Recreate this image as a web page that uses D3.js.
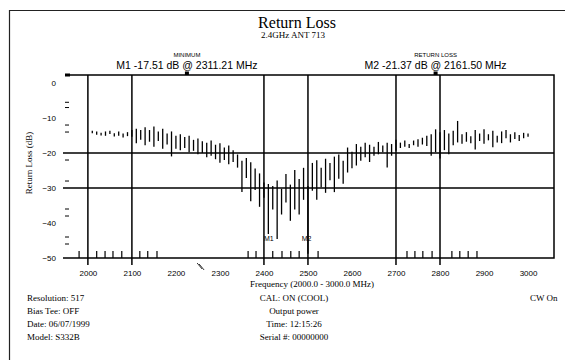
<!DOCTYPE html>
<html>
<head>
<meta charset="utf-8">
<script src="https://cdn.jsdelivr.net/npm/d3@7"></script>
<style>
  body { margin: 0; background: #fff; }
  text { font-family: 'Liberation Serif', 'DejaVu Serif', serif; fill: #000; }
</style>
</head>
<body>
<div id="chart"></div>
<script>
const width = 565
const height = 360

/* trace samples: frequency (MHz), upper and lower value (dB) of each sweep bin */
const freqs = [2010, 2020, 2030, 2040, 2050, 2060, 2070, 2080, 2090, 2100,
    2110, 2120, 2130, 2140, 2150, 2160, 2170, 2180, 2190, 2200,
    2210, 2220, 2230, 2240, 2250, 2260, 2270, 2280, 2290, 2300,
    2310, 2320, 2330, 2340, 2350, 2360, 2370, 2380, 2390, 2400,
    2410, 2420, 2430, 2440, 2450, 2460, 2470, 2480, 2490, 2500,
    2510, 2520, 2530, 2540, 2550, 2560, 2570, 2580, 2590, 2600,
    2610, 2620, 2630, 2640, 2650, 2660, 2670, 2680, 2690, 2700,
    2710, 2720, 2730, 2740, 2750, 2760, 2770, 2780, 2790, 2800,
    2810, 2820, 2830, 2840, 2850, 2860, 2870, 2880, 2890, 2900,
    2910, 2920, 2930, 2940, 2950, 2960, 2970, 2980, 2990, 3000]
const hiLoss = [-13.8, -14.0, -14.4, -14.0, -13.8, -14.5, -14.0, -14.6, -14.2, -13.6,
    -13.2, -13.6, -12.8, -13.6, -12.6, -14.0, -13.2, -14.6, -14.0, -15.2,
    -14.8, -15.6, -15.2, -16.4, -16.0, -16.8, -17.2, -16.6, -17.8, -17.4,
    -18.6, -18.0, -19.4, -20.6, -22.4, -21.6, -22.8, -24.6, -26.0, -28.6,
    -29.0, -29.6, -28.0, -30.4, -26.2, -29.2, -25.0, -27.6, -24.4, -29.6,
    -23.0, -22.2, -24.4, -21.8, -23.0, -21.2, -20.6, -22.4, -18.6, -19.8,
    -17.6, -18.4, -17.2, -17.8, -18.4, -17.0, -18.0, -17.2, -17.6, -16.4,
    -17.2, -16.6, -17.6, -16.6, -16.2, -15.8, -15.2, -14.8, -13.4, -14.2,
    -13.6, -14.6, -13.8, -11.0, -14.8, -14.2, -15.4, -13.6, -14.6, -13.4,
    -14.8, -13.8, -15.2, -14.0, -13.6, -14.8, -14.2, -15.0, -14.4, -14.6]
const loLoss = [-14.2, -14.6, -14.8, -14.9, -14.4, -15.1, -14.9, -15.4, -15.0, -15.2,
    -17.0, -16.0, -17.6, -16.6, -18.0, -16.4, -18.6, -17.4, -20.8, -18.6,
    -19.0, -18.4, -19.6, -19.2, -20.2, -19.8, -21.0, -20.6, -21.6, -22.6,
    -21.8, -23.0, -22.4, -24.0, -31.0, -27.0, -33.6, -30.4, -35.2, -32.6,
    -43.0, -36.0, -44.4, -37.4, -34.0, -39.2, -36.0, -37.4, -33.2, -48.6,
    -30.6, -33.2, -29.6, -31.2, -27.6, -31.0, -27.2, -28.6, -25.4, -24.2,
    -23.4, -22.0, -21.0, -22.4, -20.6, -20.2, -19.6, -24.0, -20.6, -19.2,
    -18.4, -18.0, -18.4, -17.6, -18.0, -17.4, -17.8, -20.6, -19.6, -21.4,
    -19.0, -20.2, -17.6, -16.8, -17.2, -16.6, -17.0, -18.8, -16.4, -17.2,
    -16.2, -18.2, -16.8, -17.0, -15.6, -16.8, -15.8, -16.4, -15.6, -15.2]

/* axis ticks */
const xTicks = [2000, 2100, 2200, 2300, 2400, 2500, 2600, 2700, 2800, 2900, 3000]
const yTicks = [0, -10, -20, -30, -40, -50]
const yMinor = [-5.5, -7, -12, -14, -22, -28, -36, -38, -44, -46]
const gridFreqs = [2000, 2100, 2400, 2500, 2700, 2800]
const limitLines = [-20, -30]
const segmentFreqs = [1980, 2020, 2039, 2057, 2077, 2118, 2136, 2157,
    2364, 2382, 2420, 2441, 2461, 2480, 2523,
    2725, 2743, 2761, 2782, 2827, 2845, 2864, 2884]

/* markers */
const markers = [
    { name: 'M1', freq: 2411, value: -45 },
    { name: 'M2', freq: 2497, value: -45 },
]

/* text blocks */
const titleText = 'Return Loss'
const subtitleText = '2.4GHz ANT 713'
const headerLeft = ['Minimum', 'M1 -17.51 dB @ 2311.21 MHz']
const headerRight = ['Return Loss', 'M2 -21.37 dB @ 2161.50 MHz']
const infoLeft = ['Resolution: 517', 'Bias Tee: OFF', 'Date: 06/07/1999', 'Model: S332B']
const infoMid = ['CAL: ON (COOL)', 'Output power', 'Time: 12:15:26', 'Serial #: 00000000']
const infoRight = ['CW On']

const x = d3.scaleLinear().domain([1948, 3059]).range([65, 554])
const y = d3.scaleLinear().domain([-50, 2.3]).range([258, 75])

const svg = d3.select('#chart').append('svg').attr('width', width).attr('height', height)

/* page frame */
svg.append('path')
    .attr('d', `M9.5,${height + 2}V10.5H${width + 2}`)
    .attr('fill', 'none')
    .attr('stroke', '#222')
    .attr('stroke-width', 1.2)

/* titles */
svg.append('text').attr('x', 297).attr('y', 28).attr('text-anchor', 'middle')
    .style('font-size', '16px').text(titleText)
svg.append('text').attr('x', 293).attr('y', 38).attr('text-anchor', 'middle')
    .style('font-size', '9px').text(subtitleText)

const headers = [{ cx: x(2225), lines: headerLeft }, { cx: x(2790), lines: headerRight }]
headers.forEach(h => {
    svg.append('text').attr('x', h.cx).attr('y', 57).attr('text-anchor', 'middle')
        .style('font-size', '6px').style('font-family', 'Liberation Sans, sans-serif').text(h.lines[0].toUpperCase())
    svg.append('text').attr('x', h.cx).attr('y', 69).attr('text-anchor', 'middle')
        .style('font-size', '10.5px').style('font-family', 'Liberation Sans, sans-serif').text(h.lines[1])
    svg.append('rect').attr('x', h.cx - 2).attr('y', 71.5).attr('width', 4).attr('height', 3.5)
})

const plot = svg.append('g')

/* plot frame: top, right and bottom edges */
plot.append('path')
    .attr('d', `M${x.range()[0]},${y(2.3)}H${x.range()[1]}V${y(-50)}H${x.range()[0] - 2}`)
    .attr('fill', 'none').attr('stroke', '#000').attr('stroke-width', 1.5)
plot.append('rect').attr('x', 65).attr('y', 73.5).attr('width', 5).attr('height', 3)

/* limit lines */
plot.selectAll('line.limit').data(limitLines).join('line')
    .attr('class', 'limit')
    .attr('x1', x.range()[0] - 2).attr('x2', x.range()[1])
    .attr('y1', d => y(d)).attr('y2', d => y(d))
    .attr('stroke', '#000').attr('stroke-width', 1.5)

/* vertical grid lines running past the bottom edge */
plot.selectAll('line.grid').data(gridFreqs).join('line')
    .attr('class', 'grid')
    .attr('x1', d => x(d)).attr('x2', d => x(d))
    .attr('y1', y(2.3)).attr('y2', y(-50) + 7)
    .attr('stroke', '#000').attr('stroke-width', 1.5)

/* short segment ticks on the bottom edge */
plot.selectAll('line.seg').data(segmentFreqs).join('line')
    .attr('class', 'seg')
    .attr('x1', d => x(d)).attr('x2', d => x(d))
    .attr('y1', y(-50) - 7).attr('y2', y(-50))
    .attr('stroke', '#000').attr('stroke-width', 1.2)

/* minor y ticks */
plot.selectAll('line.minor').data(yMinor).join('line')
    .attr('class', 'minor')
    .attr('x1', 65).attr('x2', 69)
    .attr('y1', d => y(d)).attr('y2', d => y(d))
    .attr('stroke', '#000').attr('stroke-width', 1)

/* y tick labels */
const yAxis = plot.append('g')
    .attr('transform', 'translate(60,0)')
    .call(d3.axisLeft(y).tickValues(yTicks).tickSize(0).tickPadding(4))
yAxis.select('.domain').remove()
yAxis.selectAll('text').style('font-size', '8px').style('font-family', 'Liberation Sans, sans-serif')

/* x tick labels */
const xAxis = plot.append('g')
    .attr('transform', `translate(0,${y(-50) + 12})`)
    .call(d3.axisBottom(x).tickValues(xTicks).tickSize(0).tickPadding(0).tickFormat(d3.format('d')))
xAxis.select('.domain').remove()
xAxis.selectAll('text').style('font-size', '8px').style('font-family', 'Liberation Sans, sans-serif')

/* axis break mark between 2200 and 2300 */
const bx = x(2255)
plot.append('path')
    .attr('d', `M${bx - 3},${263}L${bx + 2},${269}M${bx - 1},${264}L${bx + 4},${270}`)
    .attr('stroke', '#000').attr('stroke-width', 0.8)

/* axis titles */
svg.append('text').attr('x', 312).attr('y', 287).attr('text-anchor', 'middle')
    .style('font-size', '9px').text('Frequency (2000.0 - 3000.0 MHz)')
svg.append('text')
    .attr('transform', `translate(32,${163}) rotate(-90)`)
    .attr('text-anchor', 'middle')
    .style('font-size', '9px').text('Return Loss (dB)')

/* trace */
const trace = freqs.map((f, i) => ({ f, hi: hiLoss[i], lo: loLoss[i] }))
plot.selectAll('line.trace').data(trace).join('line')
    .attr('class', 'trace')
    .attr('x1', d => x(d.f)).attr('x2', d => x(d.f))
    .attr('y1', d => y(d.hi) - 0.6).attr('y2', d => y(d.lo) + 0.6)
    .attr('stroke', '#000').attr('stroke-width', 1.3)

/* markers */
plot.selectAll('text.marker').data(markers).join('text')
    .attr('class', 'marker')
    .attr('x', d => x(d.freq))
    .attr('y', d => y(d.value))
    .attr('text-anchor', 'middle')
    .style('font-size', '7px')
    .style('font-family', 'Liberation Sans, sans-serif')
    .text(d => d.name)

/* instrument info */
infoLeft.forEach((t, i) => {
    svg.append('text').attr('x', 27).attr('y', 301 + i * 13).style('font-size', '9px').text(t)
})
infoMid.forEach((t, i) => {
    svg.append('text').attr('x', 294).attr('y', 301 + i * 13).attr('text-anchor', 'middle')
        .style('font-size', '9px').text(t)
})
infoRight.forEach((t, i) => {
    svg.append('text').attr('x', 530).attr('y', 301 + i * 13).style('font-size', '9px').text(t)
})
</script>
</body>
</html>
